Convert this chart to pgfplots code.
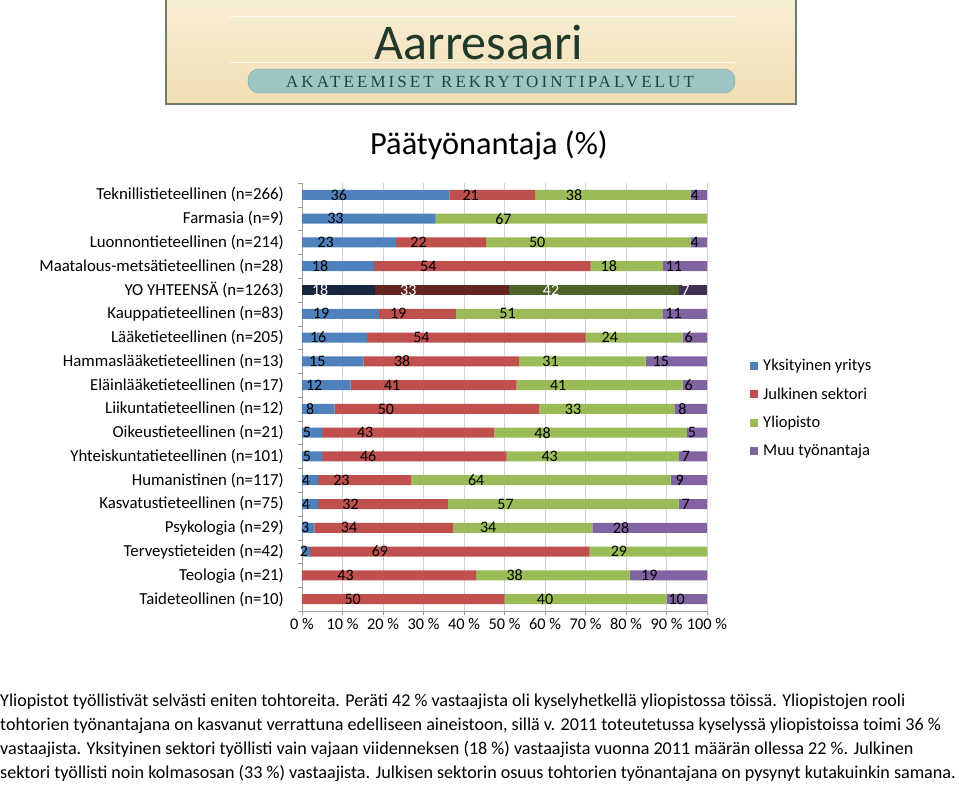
\documentclass[border=0pt]{standalone}
\usepackage{fontspec}
\setmainfont{Carlito}
\newfontfamily\logoserif{Liberation Serif}
\usepackage{pgfplots}
\usepackage{pgfplotstable}
\pgfplotsset{compat=1.18}

\definecolor{cblue}{HTML}{4F81BD}
\definecolor{cred}{HTML}{C0504D}
\definecolor{cgreen}{HTML}{9BBB59}
\definecolor{cpurple}{HTML}{8064A2}
\definecolor{dblue}{HTML}{17263C}
\definecolor{dred}{HTML}{632523}
\definecolor{dgreen}{HTML}{4F6228}
\definecolor{dpurple}{HTML}{3F3151}
\definecolor{logobg}{HTML}{F1DEB2}
\definecolor{logotop}{HTML}{F8EED6}
\definecolor{logoedge}{HTML}{6B7F6C}
\definecolor{logogreen}{HTML}{20392A}
\definecolor{pill}{HTML}{9EC6C4}
\definecolor{pilltext}{HTML}{1C4644}

% rows 1..18 from the top; YO YHTEENSÄ (row 5) is drawn in its own axis
\pgfplotstableread{
r  yk  ju  yl  mu  s
1  36  21  38  4   99
2  33  0   67  0   100
3  23  22  50  4   99
4  18  54  18  11  101
6  19  19  51  11  100
7  16  54  24  6   100
8  15  38  31  15  99
9  12  41  41  6   100
10 8   50  33  8   99
11 5   43  48  5   101
12 5   46  43  7   101
13 4   23  64  9   100
14 4   32  57  7   100
15 3   34  34  28  99
16 2   69  29  0   100
17 0   43  38  19  100
18 0   50  40  10  100
}\data

\pgfplotstableread{
r  yk  ju  yl  mu  s
5  18  33  42  7   100
}\yo

\pgfplotsset{
  sqlegend/.style={legend image code/.code={\fill[##1] (0pt,-4pt) rectangle (8pt,4pt);}},
}

\newcommand\seg[3]{%
  \addplot[fill=#2, draw=none, sqlegend,
    visualization depends on={\thisrow{#1}*100/\thisrow{s} \as \segw}]
    table[x expr=\thisrow{#1}*100/\thisrow{s}, y=r, meta=#1] {#3};
}

% the shift below is applied twice by pgfplots, so it is a quarter of the
% segment width (405pt per 100 %) to land in the middle of the segment
\pgfplotsset{
  barbase/.style={
    at={(302pt,-611pt)}, anchor=south west,
    scale only axis, width=405pt, height=428pt,
    xmin=0, xmax=100, ymin=0.5, ymax=18.5, y dir=reverse,
    xbar stacked, bar width=10pt,
    point meta=explicit,
    nodes near coords={\fontsize{16}{18}\selectfont\pgfmathfloatifflags{\pgfplotspointmeta}{0}{}{\pgfmathprintnumber{\pgfplotspointmeta}}},
    nodes near coords align={center},
    every node near coord/.append style={xshift=-1.0125*\segw, inner sep=0pt},
    /pgf/number format/assume math mode=true,
    font=\fontsize{16.3}{18}\selectfont,
  },
}

\begin{document}
\begin{tikzpicture}[x=1pt, y=-1pt]
\useasboundingbox (0,0) rectangle (959,785);

% logo banner
\shade[top color=logotop, bottom color=logobg] (166,0) rectangle (796,104);
\draw[logoedge, line width=1.5pt] (166,-2) -- (166,104) -- (796,104) -- (796,-2);
\draw[white!85!logobg, line width=0.8pt] (230,16) -- (735,16);
\draw[white!85!logobg, line width=0.8pt] (230,62) -- (735,62);
\node[text=logogreen, font=\fontsize{50}{56}\selectfont] at (479,42) {Aarresaari};
\draw[pill!80!black, fill=pill, rounded corners=11pt] (248,69) rectangle (735,93);
\node[text=pilltext, font=\logoserif\fontsize{17}{19}\selectfont\addfontfeature{LetterSpace=18}] at (490,81.5) {AKATEEMISET REKRYTOINTIPALVELUT};

% title
\node[font=\fontsize{32.4}{36}\selectfont] at (489,145) {Päätyönantaja (\%)};

\begin{axis}[barbase,
  axis x line*=bottom, axis y line*=left,
  axis line style={gray!75},
  tick align=outside,
  major tick length=4pt, minor tick length=4pt,
  xtick={0,10,...,100},
  xticklabel={\pgfmathprintnumber{\tick}~\%},
  xtick style={draw=gray!75},
  xmajorgrids, grid style={gray!35},
  ytick={1,...,18},
  yticklabels={Teknillistieteellinen (n=266), Farmasia (n=9), Luonnontieteellinen (n=214),
    Maatalous-metsätieteellinen (n=28), YO YHTEENSÄ (n=1263), Kauppatieteellinen (n=83),
    Lääketieteellinen (n=205), Hammaslääketieteellinen (n=13), Eläinlääketieteellinen (n=17),
    Liikuntatieteellinen (n=12), Oikeustieteellinen (n=21), Yhteiskuntatieteellinen (n=101),
    Humanistinen (n=117), Kasvatustieteellinen (n=75), Psykologia (n=29),
    Terveystieteiden (n=42), Teologia (n=21), Taideteollinen (n=10)},
  major y tick style={draw=none},
  minor ytick={0.5,1.5,...,18.5},
  minor y tick style={draw=gray!75},
  yticklabel style={inner sep=0pt, font=\fontsize{16.8}{18}\selectfont},
  yticklabel shift=14pt,
  legend style={at={(1.0988,0.593)}, anchor=north west, draw=none, fill=none,
    row sep=15.4pt, font=\fontsize{16.5}{18}\selectfont,
    nodes={inner ysep=0pt, inner xsep=5pt, anchor=west}},
  legend cell align=left,
]
\seg{yk}{cblue}{\data}
\addlegendentry{Yksityinen yritys}
\seg{ju}{cred}{\data}
\addlegendentry{Julkinen sektori}
\seg{yl}{cgreen}{\data}
\addlegendentry{Yliopisto}
\seg{mu}{cpurple}{\data}
\addlegendentry{Muu työnantaja}
\end{axis}

\begin{axis}[barbase, hide axis,
  every node near coord/.append style={text=white}]
\seg{yk}{dblue}{\yo}
\seg{ju}{dred}{\yo}
\seg{yl}{dgreen}{\yo}
\seg{mu}{dpurple}{\yo}
\end{axis}

% commentary below the chart
\begin{scope}[every node/.style={anchor=base west, inner sep=0pt, font=\fontsize{18.1}{20}\selectfont}]
\node at (0,706) {Yliopistot työllistivät selvästi eniten tohtoreita. Peräti 42 \% vastaajista oli kyselyhetkellä yliopistossa töissä. Yliopistojen rooli};
\node at (0,730) {tohtorien työnantajana on kasvanut verrattuna edelliseen aineistoon, sillä v. 2011 toteutetussa kyselyssä yliopistoissa toimi 36 \%};
\node at (0,754) {vastaajista. Yksityinen sektori työllisti vain vajaan viidenneksen (18 \%) vastaajista vuonna 2011 määrän ollessa 22 \%. Julkinen};
\node at (0,778) {sektori työllisti noin kolmasosan (33 \%) vastaajista. Julkisen sektorin osuus tohtorien työnantajana on pysynyt kutakuinkin samana.};
\end{scope}
\end{tikzpicture}
\end{document}
